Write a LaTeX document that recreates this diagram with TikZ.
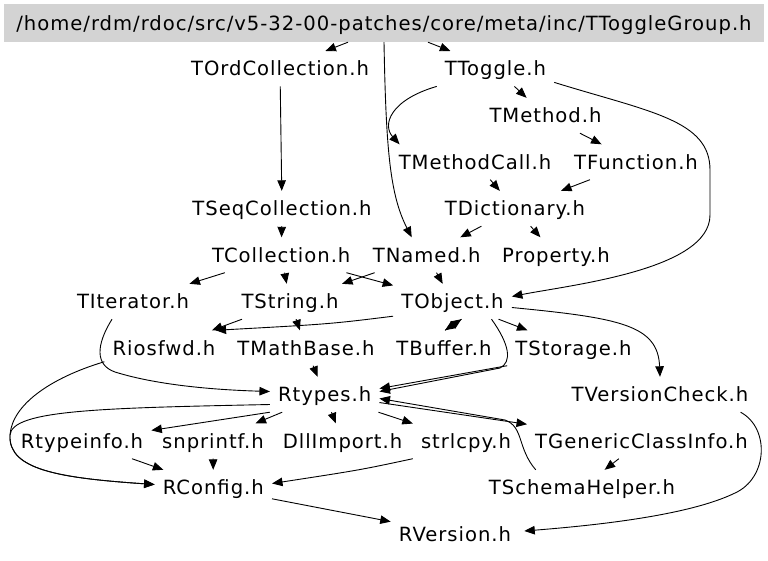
\documentclass[tikz,border=0pt]{standalone}
\usepackage{fontspec}
\setmainfont{DejaVu Sans}[LetterSpace=5]
\usetikzlibrary{arrows.meta}
\definecolor{hdrGray}{RGB}{211,211,211}

\begin{document}
\begin{tikzpicture}[
    x=1pt, y=-1pt,
    file/.style={inner xsep=8pt, inner ysep=10.5pt, text height=14pt, text depth=0pt,
                 font=\fontsize{19.6}{22}\selectfont},
    root file/.style={file, fill=hdrGray, minimum width=760pt, minimum height=38pt, inner ysep=0pt},
    incl/.style={draw=black, line width=0.9pt, -{Triangle[length=10.5pt,width=8.5pt]}}
]
  \useasboundingbox (0,0) rectangle (768,560);

  % files
  \node[root file] (hdr) at (384,23) {/home/rdm/rdoc/src/v5-32-00-patches/core/meta/inc/TToggleGroup.h};
  \node[file] (ordcoll) at (280,68.7) {TOrdCollection.h};
  \node[file] (toggle) at (495.5,68.7) {TToggle.h};
  \node[file] (method) at (545.5,115.5) {TMethod.h};
  \node[file] (methodcall) at (475,162) {TMethodCall.h};
  \node[file] (function) at (636,162) {TFunction.h};
  \node[file] (seqcoll) at (282,208.5) {TSeqCollection.h};
  \node[file] (dict) at (515,208.5) {TDictionary.h};
  \node[file] (coll) at (281.3,255) {TCollection.h};
  \node[file] (named) at (426.7,255) {TNamed.h};
  \node[file] (property) at (556,255) {Property.h};
  \node[file] (iter) at (133,301.5) {TIterator.h};
  \node[file] (string) at (290,301.5) {TString.h};
  \node[file] (object) at (452.5,301.5) {TObject.h};
  \node[file] (riosfwd) at (164,348) {Riosfwd.h};
  \node[file] (mathbase) at (306,348) {TMathBase.h};
  \node[file] (buffer) at (444,348) {TBuffer.h};
  \node[file] (storage) at (573.5,348) {TStorage.h};
  \node[file] (rtypes) at (324.7,394.5) {Rtypes.h};
  \node[file] (vcheck) at (660,394.5) {TVersionCheck.h};
  \node[file] (rtypeinfo) at (82,441) {Rtypeinfo.h};
  \node[file] (snprintf) at (213,441) {snprintf.h};
  \node[file] (dllimport) at (342.5,441) {DllImport.h};
  \node[file] (strlcpy) at (466,441) {strlcpy.h};
  \node[file] (gci) at (641.5,441) {TGenericClassInfo.h};
  \node[file] (rconfig) at (213.3,487.5) {RConfig.h};
  \node[file] (schema) at (582,487.5) {TSchemaHelper.h};
  \node[file] (rversion) at (455,534) {RVersion.h};

  % includes
  \draw[incl] ([xshift=-36pt]hdr.south) -- (ordcoll);
  \draw[incl] ([xshift=44pt]hdr.south) -- (toggle);
  \draw[incl] (hdr.south) .. controls (386,150) and (390,195) .. ([xshift=-15pt]named.north);
  \draw[incl] (toggle) -- (method);
  \draw[incl] (toggle.south west) .. controls (390,100) and (382,125) .. ([xshift=9pt]methodcall.north west);
  \draw[incl] ([yshift=4pt]toggle.south east) .. controls (650,112) and (710,120) .. (710,170)
    -- (710,215) .. controls (710,270) and (570,285) .. ([yshift=5pt]object.east);
  \draw[incl] (method) -- (function);
  \draw[incl] (methodcall) -- (dict);
  \draw[incl] (function) -- (dict);
  \draw[incl] (ordcoll) -- (seqcoll);
  \draw[incl] (seqcoll) -- (coll);
  \draw[incl] (dict) -- (named);
  \draw[incl] (dict) -- (property);
  \draw[incl] (coll) -- (iter);
  \draw[incl] (coll) -- (string);
  \draw[incl] (coll) -- (object);
  \draw[incl] (named) -- (string);
  \draw[incl] (named) -- (object);
  \draw[incl] (string) -- (mathbase);
  \draw[incl] (string) -- (riosfwd);
  \draw[incl] ([yshift=3pt]object.south west) .. controls (330,324) .. ([xshift=-8pt]riosfwd.north east);
  \draw[incl] ([xshift=9pt]object.south) -- ([xshift=1pt]buffer.north);
  \draw[incl] ([xshift=1pt]buffer.north) -- ([xshift=9pt]object.south);
  \draw[incl] (object) -- (storage);
  \draw[incl] ([yshift=-6pt]object.east) .. controls (620,318) and (658,325) .. (vcheck.north);
  \draw[incl] ([xshift=39pt]object.south) .. controls (510,345) and (512,362) .. (500,368)
    -- ([yshift=3pt]rtypes.east);
  \draw[incl] (storage.south west) -- ([yshift=6pt]rtypes.east);
  \draw[incl] (mathbase) -- (rtypes);
  \draw[incl] ([xshift=-21pt]iter.south) .. controls (96,345) and (95,365) .. (115,372)
    .. controls (160,386) and (220,390) .. ([yshift=3pt]rtypes.west);
  \draw[incl] ([yshift=4pt]riosfwd.south west) .. controls (50,378) and (12,405) .. (10,435)
    .. controls (8,470) and (60,478) .. ([yshift=3pt]rconfig.west);
  \draw[incl] ([yshift=-10pt]rtypes.west) .. controls (100,408) and (12,410) .. (10,435)
    .. controls (8,470) and (60,478) .. ([yshift=3pt]rconfig.west);
  \draw[incl] (rtypes.south west) -- (rtypeinfo);
  \draw[incl] (rtypes) -- (snprintf);
  \draw[incl] (rtypes) -- (dllimport);
  \draw[incl] (rtypes) -- (strlcpy);
  \draw[incl] (rtypes) -- (gci);
  \draw[incl] ([xshift=55pt]schema.north west) .. controls (517,448) and (524,427) .. (505,420)
    -- ([yshift=-4pt]rtypes.east);
  \draw[incl] (gci) -- (schema);
  \draw[incl] (rtypeinfo) -- (rconfig);
  \draw[incl] (snprintf) -- (rconfig);
  \draw[incl] (strlcpy.south west) .. controls (360,470) .. ([yshift=4pt]rconfig.east);
  \draw[incl] (rconfig) -- (rversion);
  \draw[incl] ([xshift=-16pt]vcheck.south east) .. controls (770,428) and (768,478) .. (735,493)
    .. controls (690,515) and (600,525) .. ([xshift=5pt,yshift=3pt]rversion.east);
\end{tikzpicture}
\end{document}
